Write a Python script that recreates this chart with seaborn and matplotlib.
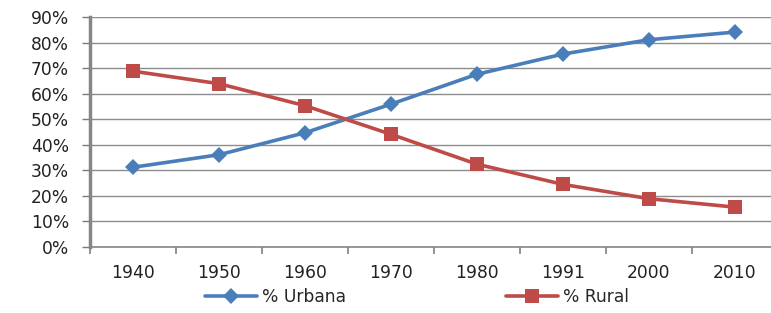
import matplotlib
matplotlib.use("Agg")
import matplotlib.pyplot as plt
import seaborn as sns
import pandas as pd
import numpy as np
from matplotlib.lines import Line2D

years = ["1940", "1950", "1960", "1970", "1980", "1991", "2000", "2010"]
urbana = [31.2, 36.1, 44.7, 55.9, 67.6, 75.5, 81.1, 84.1]
rural = [68.8, 63.9, 55.3, 44.1, 32.4, 24.5, 18.9, 15.6]
y_ticks = [0, 10, 20, 30, 40, 50, 60, 70, 80, 90]
series_names = ["% Urbana", "% Rural"]
colors = {"% Urbana": "#4A7EBB", "% Rural": "#BE4B48"}

sns.set_theme(style="white")
plt.rcParams['font.family'] = ['DejaVu Sans']
plt.rcParams['ytick.left'] = True
plt.rcParams['xtick.bottom'] = True

df = pd.DataFrame({
    "pos": list(range(len(years))) * 2,
    "val": urbana + rural,
    "serie": [series_names[0]] * len(years) + [series_names[1]] * len(years),
})

fig = plt.figure(figsize=(7.71, 3.13), dpi=100)
ax = fig.add_axes([90/771, 1 - 247/313, (778-90)/771, (247-17)/313])

sns.lineplot(data=df, x="pos", y="val", hue="serie", style="serie",
             markers={"% Urbana": "D", "% Rural": "s"}, dashes=False,
             palette=colors, linewidth=2.6, markersize=8.5,
             markeredgewidth=0, ax=ax, legend=False)
for line in ax.get_lines():
    if line.get_marker() == "s":
        line.set_markersize(10)

fs = 12.3
ax.set_xlim(-0.5, len(years) - 0.5)
ax.set_ylim(0, 90)
ax.set_yticks(y_ticks)
ax.set_yticklabels([f"{v}%" for v in y_ticks])
ax.set_xticks(range(len(years)))
ax.set_xticklabels(years)
ax.set_xticks(np.arange(-0.5, len(years), 1), minor=True)
ax.tick_params(axis="x", which="major", bottom=True, length=0, pad=12, labelsize=fs, labelcolor="#222222")
ax.tick_params(axis="x", which="minor", bottom=True, length=5, width=1.2, color="#808080", direction="out")
ax.tick_params(axis="y", which="major", left=True, length=6, width=1, color="#7A7A7A", direction="out",
               pad=9, labelsize=fs, labelcolor="#222222")
ax.set_xlabel("")
ax.set_ylabel("")
ax.grid(axis="y", color="#8C8C8C", linewidth=1)
ax.set_axisbelow(True)
for s in ["top", "right"]:
    ax.spines[s].set_visible(False)
ax.spines["left"].set_color("#868686")
ax.spines["left"].set_linewidth(2.5)
ax.spines["bottom"].set_color("#868686")
ax.spines["bottom"].set_linewidth(1.2)

handles = [
    Line2D([], [], color=colors["% Urbana"], marker="D", markersize=8.5, linewidth=2.6, markeredgewidth=0),
    Line2D([], [], color=colors["% Rural"], marker="s", markersize=10, linewidth=2.6, markeredgewidth=0),
]
fig.legend(handles, series_names, loc="center", bbox_to_anchor=(417/771, 1 - 297/313),
           ncol=2, frameon=False, handlelength=3.0, columnspacing=9.4, fontsize=fs,
           handletextpad=0.3)

fig.savefig("out.png", dpi=100)
